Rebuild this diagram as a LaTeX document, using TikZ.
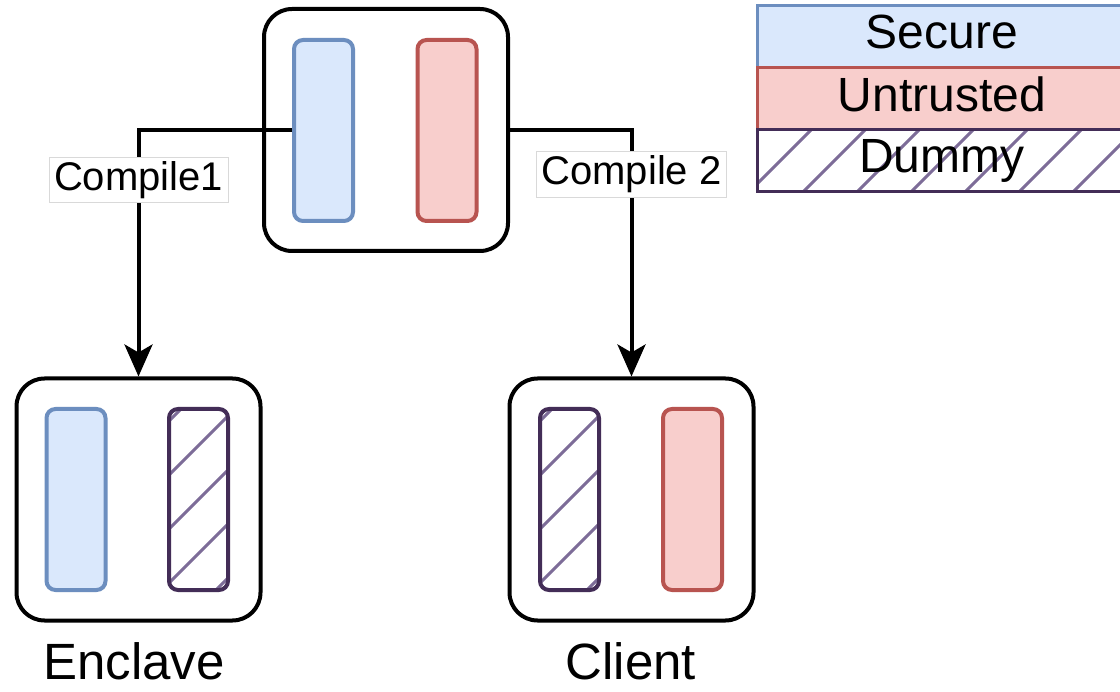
\documentclass[tikz,border=0pt]{standalone}
\usepackage{fontspec}
\setmainfont{Liberation Sans}
\usetikzlibrary{arrows.meta}

\definecolor{secfill}{HTML}{DAE8FC}
\definecolor{secline}{HTML}{6C8EBF}
\definecolor{untfill}{HTML}{F8CECC}
\definecolor{untline}{HTML}{B85450}
\definecolor{dumline}{HTML}{432D57}
\definecolor{dumhatch}{HTML}{7D6C98}

\tikzset{
  % diagonal stripes, clipped to the node outline
  hatched/.style={path picture={
      \foreach \k in {-12,...,12}
        \draw[dumhatch, line width=3pt]
          ([xshift=\k*54pt-300pt, yshift=-300pt]path picture bounding box.center) -- ++(600pt,600pt);
  }},
}

\begin{document}
\begin{tikzpicture}[x=1pt, y=-1pt,
  box/.style={draw, line width=4pt, rounded corners=28pt, fill=white,
    minimum width=244pt, minimum height=242pt},
  part/.style={line width=4pt, rounded corners=9pt, inner sep=0pt,
    minimum width=59pt, minimum height=181pt},
  secure/.style={part, draw=secline, fill=secfill},
  untrusted/.style={part, draw=untline, fill=untfill},
  dummy/.style={part, draw=dumline, fill=white, hatched},
  legend/.style={line width=3pt, minimum width=370pt, minimum height=62pt,
    inner sep=0pt, text depth=10pt, font=\fontsize{48}{56}\selectfont},
  lbl/.style={fill=white, draw=black!15, line width=0.8pt, inner xsep=5pt,
    inner ysep=4pt, font=\fontsize{40}{46}\selectfont},
  boxname/.style={inner sep=0pt, font=\fontsize{51}{58}\selectfont},
  flow/.style={line width=4pt, -{Stealth[length=32pt, width=28pt, inset=8pt]}}
]
\useasboundingbox (0,0) rectangle (1120,692);

% source program and the two compiled halves
\node[box] (src) at (386,130) {};
\node[secure] (srcSec) at (323.5,130.5) {};
\node[untrusted] (srcUnt) at (447,130.5) {};

\node[box] (enclave) at (138.5,499.5) {};
\node[secure] (encSec) at (76,499.5) {};
\node[dummy] (encDum) at (198.5,499.5) {};

\node[box] (client) at (631.5,499.5) {};
\node[dummy] (cliDum) at (569.5,499.5) {};
\node[untrusted] (cliUnt) at (692.5,499.5) {};

\draw[flow] (srcSec.west) -| node[lbl, pos=0.6] (comp1) {Compile1} (enclave.north);
\draw[flow] (src.east) -| node[lbl, pos=0.59] (comp2) {Compile 2} (client.north);

\node[boxname] (encName) at (134,661) {Enclave};
\node[boxname] (cliName) at (631,661) {Client};

% legend
\node[legend, draw=secline, fill=secfill] (legSec) at (942,37) {Secure};
\node[legend, draw=untline, fill=untfill] (legUnt) at (942,99) {Untrusted};
\node[legend, draw=dumline, fill=white, hatched] (legDum) at (942,161) {Dummy};

\end{tikzpicture}
\end{document}
